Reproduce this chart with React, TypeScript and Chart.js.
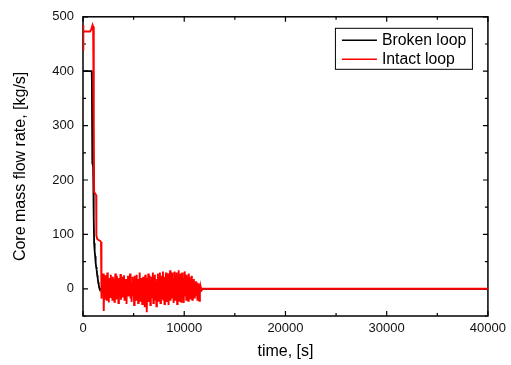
import React, { useEffect, useRef } from "react";
import { Chart, registerables } from "chart.js";

Chart.register(...registerables);

// Broken loop (black) time / value pairs
const brokenT = [0, 860, 880, 900, 920, 1000, 1040, 1080, 1100, 1150, 1200, 1250, 1300, 1350, 1400, 1450, 1500, 1550, 1600, 1650, 40000];
const brokenV = [400, 400, 380, 300, 231, 225, 200, 130, 84, 70, 60, 48, 40, 35, 25, 20, 12, 8, 2, 0, 0];

// Intact loop (red): early transient
const intactT = [0, 10, 60, 700, 800, 950, 1000, 1050, 1080, 1100, 1200, 1300, 1320, 1400, 1500, 1700, 1780];
const intactV = [440, 485, 473, 473, 476, 485, 482, 470, 300, 178, 175, 172, 98, 92, 90, 88, 86];

// Intact loop oscillation samples (every 50 s from 1800 s)
const oscStart = 1800;
const oscStep = 50;
const oscV = [
  5, -18, 22, -10, 28, -41, 15, -20, 25, -5, 18, -22, 30, -12, 8, -25, 20, 2, -15, 26, -8, 14, -20, 22,
  -12, 18, -24, 10, 28, -6, -18, 24, -10, 15, -26, 20, 4, -14, 27, -20, 12, -8, 22, -16, 6, 25, -22, 10, -4, 18, -28, 16, -10, 24,
  -14, 20, -8, 28, -18, 12, -24, 6, 22, -12, 16, -30, 24, -6, 10, -20, 26, -16, 8, -26, 18, -4, 30, -22, 14, -10, 20, -28, 4, 22,
  -18, 12, -34, 26, -8, 18, -43, 20, -12, 28, -24, 6, 24, -30, 14, -16, 22, -10, 30, -26, 8, -20, 26, -14, 18, -32, 12, -6, 28, -22,
  16, -12, 30, -26, 10, -18, 24, -8, 32, -20, 6, -28, 22, -14, 30, -24, 12, -10, 28, -30, 18, -6, 34, -22, 14, -18, 30, -12, 20, -26,
  8, 32, -20, 24, -14, 30, -28, 12, -8, 34, -22, 18, -16, 28, -24, 10, 30, -18, 20, -26, 14, 32, -12, 22, -20, 26, -16, 18, -22, 28,
  -14, 22, -18, 16, -10, 24, -20, 14, -12, 18, -16, 10, -8, 14, -12, 12, -20, 8, -6, 10, -22, 6, -4, 2, -2, 0,
];
const intactTailT = [40000];
const intactTailV = [0];

const xMajor = [0, 10000, 20000, 30000, 40000];
const xMinor = [5000, 15000, 25000, 35000];
const yMajor = [0, 100, 200, 300, 400, 500];
const yMinor = [-50, 50, 150, 250, 350, 450];

const seriesLabels = ["Broken loop", "Intact loop"];
const seriesColors = ["#000000", "#ff0000"];

const FONT = "Arial, 'Liberation Sans', sans-serif";

export default function App() {
  const ref = useRef<HTMLCanvasElement | null>(null);

  useEffect(() => {
    document.body.style.margin = "0";
    const canvas = ref.current;
    if (!canvas) return;

    const broken = brokenT.map((t, i) => ({ x: t, y: brokenV[i] }));
    const intact = [
      ...intactT.map((t, i) => ({ x: t, y: intactV[i] })),
      ...oscV.map((v, i) => ({ x: oscStart + i * oscStep, y: v })),
      ...intactTailT.map((t, i) => ({ x: t, y: intactTailV[i] })),
    ];

    const framePlugin = {
      id: "frame",
      beforeDatasetsDraw(chart: any) {
        const { ctx, chartArea: a, scales } = chart;
        const xs = scales.x;
        const ys = scales.y;
        ctx.save();
        ctx.strokeStyle = "#000";
        ctx.lineWidth = 1.5;
        ctx.strokeRect(a.left, a.top, a.right - a.left, a.bottom - a.top);
        ctx.lineWidth = 1.2;
        ctx.beginPath();
        const tickX = (vals: number[], len: number) => {
          vals.forEach((v) => {
            const p = xs.getPixelForValue(v);
            ctx.moveTo(p, a.bottom);
            ctx.lineTo(p, a.bottom - len);
            ctx.moveTo(p, a.top);
            ctx.lineTo(p, a.top + len);
          });
        };
        const tickY = (vals: number[], len: number) => {
          vals.forEach((v) => {
            const p = ys.getPixelForValue(v);
            ctx.moveTo(a.left, p);
            ctx.lineTo(a.left + len, p);
            ctx.moveTo(a.right, p);
            ctx.lineTo(a.right - len, p);
          });
        };
        tickX(xMajor, 5);
        tickX(xMinor, 3);
        tickY(yMajor, 5);
        tickY(yMinor, 3);
        ctx.stroke();
        ctx.restore();
      },
      afterDraw(chart: any) {
        const { ctx, chartArea: a } = chart;
        const w = 137;
        const h = 41;
        const left = a.right - 16 - w;
        const top = a.top + 11;
        ctx.save();
        ctx.fillStyle = "#fff";
        ctx.fillRect(left, top, w, h);
        ctx.strokeStyle = "#000";
        ctx.lineWidth = 1;
        ctx.strokeRect(left + 0.5, top + 0.5, w, h);
        ctx.font = `15.8px ${FONT}`;
        ctx.textBaseline = "middle";
        ctx.textAlign = "left";
        chart.data.datasets.forEach((ds: any, i: number) => {
          const y = top + 12.5 + i * 19;
          ctx.strokeStyle = ds.borderColor;
          ctx.lineWidth = 1.5;
          ctx.beginPath();
          ctx.moveTo(left + 7, y);
          ctx.lineTo(left + 42, y);
          ctx.stroke();
          ctx.fillStyle = "#000";
          ctx.fillText(ds.label, left + 47, y + 0.5);
        });
        ctx.restore();
      },
    };

    const chart = new Chart(canvas, {
      type: "line",
      data: {
        datasets: [
          {
            label: seriesLabels[0],
            data: broken,
            borderColor: seriesColors[0],
            backgroundColor: seriesColors[0],
            borderWidth: 1.8,
            pointRadius: 0,
            tension: 0,
            order: 1,
          },
          {
            label: seriesLabels[1],
            data: intact,
            borderColor: seriesColors[1],
            backgroundColor: seriesColors[1],
            borderWidth: 1.9,
            pointRadius: 0,
            tension: 0,
            order: 0,
          },
        ],
      },
      options: {
        animation: false,
        responsive: false,
        maintainAspectRatio: false,
        events: [],
        layout: { padding: { left: 0, right: 20, top: 16, bottom: 0 } },
        plugins: {
          legend: { display: false },
          tooltip: { enabled: false },
        },
        scales: {
          x: {
            type: "linear",
            min: 0,
            max: 40000,
            grid: { display: false, drawTicks: false },
            border: { display: false },
            afterBuildTicks: (s: any) => {
              s.ticks = xMajor.map((v) => ({ value: v }));
            },
            afterFit: (s: any) => {
              s.height = 49;
            },
            ticks: {
              padding: 5,
              maxRotation: 0,
              color: "#111",
              font: { family: FONT, size: 13 },
              callback: (v: any) => String(v),
            },
            title: {
              display: true,
              text: "time, [s]",
              color: "#000",
              font: { family: FONT, size: 16 },
              padding: { top: 0, bottom: 4 },
            },
          },
          y: {
            type: "linear",
            min: -50,
            max: 500,
            grid: { display: false, drawTicks: false },
            border: { display: false },
            afterBuildTicks: (s: any) => {
              s.ticks = yMajor.map((v) => ({ value: v }));
            },
            afterFit: (s: any) => {
              s.width = 83;
            },
            ticks: {
              padding: 9,
              color: "#111",
              font: { family: FONT, size: 13 },
              callback: (v: any) => String(v),
            },
            title: {
              display: true,
              text: "Core mass flow rate, [kg/s]",
              color: "#000",
              font: { family: FONT, size: 16 },
              padding: { top: 11, bottom: 0 },
            },
          },
        },
      },
      plugins: [framePlugin],
    } as any);

    return () => chart.destroy();
  }, []);

  return (
    <div style={{ width: 511, height: 365, position: "relative" }}>
      <canvas ref={ref} width={511} height={365} style={{ width: 511, height: 365, display: "block" }} />
    </div>
  );
}
